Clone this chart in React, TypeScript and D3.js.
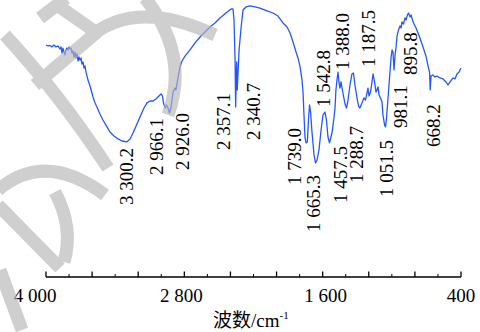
import React from 'react';
import * as d3 from 'd3';

// Spectrum: wavenumber (cm-1) and transmittance (arbitrary %)
const wavenumber = [
  4000, 3983, 3965, 3948, 3931, 3913, 3896, 3879, 3870, 3861,
  3853, 3844, 3835, 3827, 3818, 3809, 3800, 3792, 3783, 3774,
  3766, 3757, 3748, 3740, 3731, 3722, 3714, 3705, 3696, 3688,
  3679, 3670, 3662, 3653, 3644, 3636, 3618, 3592, 3575, 3558,
  3532, 3506, 3471, 3445, 3410, 3375, 3341, 3300, 3271, 3245,
  3211, 3185, 3150, 3124, 3098, 3072, 3046, 3020, 3002, 2989,
  2981, 2966, 2955, 2942, 2929, 2916, 2907, 2898, 2881, 2872,
  2855, 2838, 2820, 2794, 2751, 2707, 2664, 2621, 2577, 2534,
  2491, 2439, 2395, 2378, 2369, 2360, 2355, 2350, 2346, 2341,
  2335, 2325, 2308, 2291, 2265, 2230, 2187, 2144, 2083, 2031,
  1988, 1944, 1909, 1883, 1857, 1831, 1814, 1796, 1779, 1770,
  1762, 1753, 1744, 1733, 1723, 1714, 1705, 1692, 1675, 1662,
  1649, 1632, 1614, 1597, 1580, 1567, 1554, 1541, 1528, 1519,
  1502, 1493, 1485, 1476, 1467, 1459, 1450, 1441, 1432, 1424,
  1406, 1393, 1380, 1363, 1346, 1333, 1320, 1302, 1289, 1277,
  1259, 1242, 1229, 1215, 1207, 1198, 1185, 1172, 1163, 1150,
  1137, 1129, 1120, 1111, 1098, 1085, 1077, 1063, 1055, 1046,
  1033, 1020, 1007, 998, 990, 981, 972, 964, 955, 942,
  929, 920, 912, 899, 886, 877, 864, 855, 842, 833,
  821, 808, 790, 773, 756, 738, 721, 704, 686, 673,
  667, 660, 643, 626, 608, 582, 556, 530, 513, 495,
  469, 452, 435, 417, 409, 400,
];

const transmittance = [
  75, 74.4, 74.7, 73.8, 75, 73.8, 74.4, 72.5, 73.8, 70,
  73.1, 70.6, 68.8, 71.9, 73.1, 71.9, 73.8, 72.5, 73.1, 70,
  71.3, 67.5, 70.6, 66.9, 69.4, 65, 67.5, 65.6, 66.9, 63.1,
  64.4, 60.6, 61.9, 58.1, 55.6, 53.1, 49.4, 42.5, 38.8, 36.3,
  31.9, 28.1, 23.8, 20.6, 18.1, 16.3, 15, 14.4, 16.3, 20,
  25.6, 30, 35.6, 38.8, 40, 40, 41.3, 43.1, 44.4, 43.1,
  38.8, 35.6, 37.5, 35.6, 32.5, 35.6, 40.6, 45.6, 48.1, 46.9,
  54.4, 61.3, 65, 68.1, 71.9, 76.3, 80, 83.1, 86.3, 88.8,
  91.9, 95, 97.5, 97.5, 90.6, 65.6, 36.3, 53.1, 64.4, 46.9,
  56.3, 71.9, 85.6, 96.9, 98.8, 99.4, 98.8, 98.1, 96.3, 95,
  93.1, 88.8, 86.3, 82.5, 76.9, 70.6, 66.9, 61.3, 53.1, 45,
  31.3, 16.9, 13.8, 14.4, 28.1, 37.5, 33.1, 20, 6.3, 1.3,
  3.1, 9.4, 21.9, 31.3, 33.1, 28.1, 17.5, 13.8, 17.5, 20,
  29.4, 35.6, 46.9, 53.1, 58.1, 51.9, 48.1, 51.9, 48.1, 45,
  38.1, 35.6, 40.6, 50, 56.9, 57.5, 50, 41.9, 36.9, 35.6,
  38.8, 41.9, 40.6, 45, 48.1, 43.1, 45.6, 51.9, 56.9, 51.9,
  45.6, 46.9, 48.8, 43.8, 41.9, 39.4, 31.3, 25, 23.8, 29.4,
  41.9, 54.4, 66.9, 71.9, 70.6, 59.4, 68.8, 73.1, 80.6, 84.4,
  86.9, 85.6, 89.4, 88.1, 91.9, 90.6, 93.8, 95, 92.5, 93.8,
  90.6, 88.1, 85.6, 82.5, 79.4, 75.6, 71.9, 68.1, 61.9, 58.1,
  46.9, 55.6, 56.3, 55, 55.6, 54.4, 53.8, 51.9, 50, 51.9,
  54.4, 53.8, 56.9, 58.1, 59.4, 60.6,
];

// Peak annotations: text, and anchor (wavenumber, transmittance) of the rotated label's start
const peakText = [
  '3 300.2', '2 966.1', '2 926.0', '2 357.1', '2 340.7', '1 739.0', '1 665.3', '1 542.8',
  '1 457.5', '1 388.0', '1 288.7', '1 187.5', '1 051.5', '981.1', '895.8', '668.2',
];
const peakLabelWn = [3245, 2985, 2759, 2404, 2144, 1788, 1623, 1536, 1389, 1371, 1250, 1146, 990, 868, 782, 582];
const peakLabelT = [-25, -6.3, -3.1, 9.4, 15.6, -12.5, -41.9, 36.3, -23.8, 59.4, -11.3, 61.3, -20, 23.1, 56.3, 11.3];

const majorTicks = [4000, 3600, 3200, 2800, 2400, 2000, 1600, 1200, 800, 400];
const minorTicks = [3800, 3400, 3000, 2600, 2200, 1800, 1400, 1000, 600];
const tickLabelValues = [4000, 2800, 1600, 400];
const tickLabelText = ['4 000', '2 800', '1 600', '400'];

const W = 480;
const H = 332;
const AXIS_Y = 277;
const SERIF = '"Liberation Serif", "Times New Roman", serif';

const x = d3.scaleLinear().domain([4000, 400]).range([46, 461]);
const y = d3.scaleLinear().domain([0, 100]).range([165, 5]);

const watermarkPaths = [
  'M 5 35 Q 60 95 108 168',
  'M 35 85 L 97 32',
  'M 40 18 L 66 -2',
  'M 57 5 L 97 33',
  'M 95 33 Q 140 0 215 35',
  'M 145 -2 Q 190 55 168 115',
  'M -2 190 Q 45 150 105 195',
  'M 55 192 Q 74 228 64 262',
  'M -2 205 L 60 268',
  'M 0 270 L 22 330',
];

export default function App() {
  const pts = wavenumber.map((w, i) => [w, transmittance[i]] as [number, number]);
  const line = d3
    .line<[number, number]>()
    .x((d) => x(d[0]))
    .y((d) => y(d[1]))
    .curve(d3.curveLinear);

  return (
    <svg
      width={W}
      height={H}
      viewBox={`0 0 ${W} ${H}`}
      style={{ position: 'absolute', left: 0, top: 0, background: '#fff' }}
    >
      <rect x={0} y={0} width={W} height={H} fill="#fff" />
      <path d={line(pts) || ''} fill="none" stroke="#2456ff" strokeWidth={1.3} strokeLinejoin="round" />

      {peakText.map((t, i) => {
        const px = x(peakLabelWn[i]);
        const py = y(peakLabelT[i]);
        return (
          <text
            key={t}
            transform={`translate(${px},${py}) rotate(-90)`}
            fontFamily={SERIF}
            fontSize={19}
            fill="#000"
            textAnchor="start"
          >
            {t}
          </text>
        );
      })}

      {/* x axis */}
      <line x1={x(4000)} x2={x(400)} y1={AXIS_Y} y2={AXIS_Y} stroke="#000" strokeWidth={1.4} />
      {majorTicks.map((t) => (
        <line key={'M' + t} x1={x(t)} x2={x(t)} y1={AXIS_Y} y2={AXIS_Y - 5.5} stroke="#000" strokeWidth={1.3} />
      ))}
      {minorTicks.map((t) => (
        <line key={'m' + t} x1={x(t)} x2={x(t)} y1={AXIS_Y} y2={AXIS_Y - 3} stroke="#000" strokeWidth={1} />
      ))}
      {tickLabelValues.map((t, i) => (
        <text
          key={'t' + t}
          x={x(t) + (i === 0 ? -11 : i === 1 ? -3 : i === 2 ? 3 : 0)}
          y={302}
          fontFamily={SERIF}
          fontSize={19}
          textAnchor="middle"
          fill="#000"
        >
          {tickLabelText[i]}
        </text>
      ))}
      <text x={213} y={327} fontSize={19} fill="#000">
        <tspan fontFamily='"Noto Sans CJK SC", sans-serif'>波数</tspan>
        <tspan fontFamily={SERIF}>/cm</tspan>
        <tspan fontFamily={SERIF} fontSize={11} dy={-8}>-1</tspan>
      </text>

      {/* watermark */}
      <g opacity={0.65} fill="none" stroke="rgb(182,182,182)" strokeWidth={13}>
        {watermarkPaths.map((d, i) => (
          <path key={i} d={d} />
        ))}
      </g>
    </svg>
  );
}
